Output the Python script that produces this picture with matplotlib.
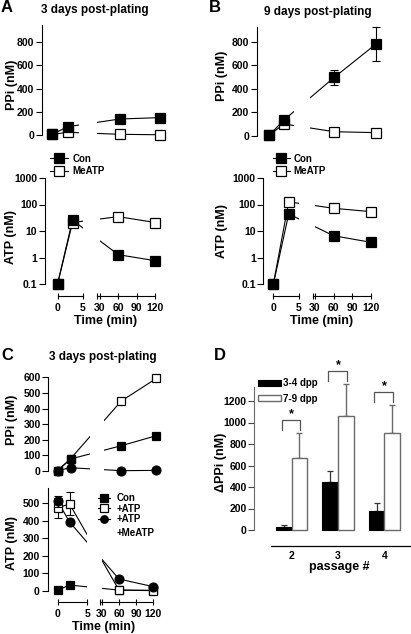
import numpy as np
import matplotlib
matplotlib.use("Agg")
import matplotlib.pyplot as plt
from matplotlib.lines import Line2D
from matplotlib.patches import Patch
from matplotlib.ticker import NullLocator

plt.rcParams['font.family'] = ['Liberation Sans', 'DejaVu Sans']
plt.rcParams['font.weight'] = 'bold'
plt.rcParams['axes.linewidth'] = 0.8

# -------------------------------
# DATA
# -------------------------------
time_ab = [0, 3, 60, 120]          # min
time_c = [0, 2, 60, 120]

# A: 3 days post-plating
a_ppi_con = [5, 72, 138, 150]
a_ppi_meatp = [5, 23, 6, 2]
a_atp_con = [0.1, 26, 1.3, 0.77]
a_atp_meatp = [0.1, 21, 35, 21]

# B: 9 days post-plating
b_ppi_con = [3, 134, 497, 778]
b_ppi_con_err = [0, 0, 65, 146]
b_ppi_meatp = [3, 100, 34, 26]
b_atp_con = [0.1, 44, 6.7, 3.8]
b_atp_meatp = [0.1, 126, 72, 54]

# C: 3 days post-plating, ATP added
c_ppi_con = [2, 77, 162, 226]
c_ppi_atp = [3, 80, 448, 593]
c_ppi_meatp = [3, 21, 2, 4]
c_atp_con = [4, 34, 5, 4]
c_atp_atp = [472, 495, 5, 2]
c_atp_atp_err = [55, 66, 0, 0]
c_atp_meatp = [510, 392, 68, 25]
c_atp_meatp_err = [30, 0, 0, 0]

# D: delta PPi by passage
passage = [2, 3, 4]
d_early = [25, 450, 180]
d_early_err = [20, 99, 68]
d_late = [667, 1060, 900]
d_late_err = [233, 295, 263]

# -------------------------------
# LAYOUT HELPERS (pixel based)
# -------------------------------
W, H = 411, 634
fig = plt.figure(figsize=(W / 100, H / 100), dpi=100)


def fx(px):
    return px / W


def fy(py):
    return 1 - py / H


def add_ax(l, t, r, b):
    return fig.add_axes([l / W, 1 - b / H, (r - l) / W, (b - t) / H])


def broken(s, g, rr):
    # 0-5 min and 30-120 min shown side by side, gap in between
    def fwd(t):
        t = np.asarray(t, float)
        return np.where(t <= 5, s * t,
                        np.where(t < 30, 5 * s + g * (t - 5) / 25,
                                 5 * s + g + rr * (t - 30)))

    def inv(u):
        u = np.asarray(u, float)
        a, b = 5 * s, 5 * s + g
        return np.where(u <= a, u / s,
                        np.where(u < b, 5 + (u - a) * 25 / g, 30 + (u - b) / rr))
    return fwd, inv


def time_axes(l, t, r, b, p0, s, g, rr, cut=0.0, show_x=True):
    ax = add_ax(l, t, r, b)
    fwd, inv = broken(s, g, rr)
    ax.set_xscale('function', functions=(fwd, inv))
    ax.set_xlim(float(inv(l - p0)), float(inv(r - p0)))
    ax.axvspan(5, float(inv(fwd(30) - cut)), color='white', lw=0, zorder=1.5)
    for sp in ['top', 'right', 'bottom']:
        ax.spines[sp].set_visible(False)
    ax.xaxis.set_minor_locator(NullLocator())
    if show_x:
        start = float(inv(fwd(30) - 2.5))
        ax.set_xticks([0, 5, start, 30, 60, 90, 120],
                      ['0', '5', '', '30', '60', '90', '120'])
        ax.tick_params(axis='x', direction='inout', length=4.5, width=0.8,
                       pad=3, labelsize=7.5)
        tr = ax.get_xaxis_transform()
        ax.plot([0, 5], [0, 0], transform=tr, color='k', lw=0.8, clip_on=False, zorder=3)
        ax.plot([start, 120], [0, 0], transform=tr, color='k', lw=0.8, clip_on=False, zorder=3)
    else:
        ax.set_xticks([])
    ax.xaxis.set_minor_locator(NullLocator())
    return ax


def lin_y(ax, zero_px, k, t, b, bound, ticks):
    ax.set_ylim((zero_px - b) / k, (zero_px - t) / k)
    ax.spines['left'].set_bounds(0, bound)
    ax.set_yticks(ticks)
    ax.tick_params(axis='y', direction='out', length=4, width=0.8, pad=1.5, labelsize=7.5)


def log_y(ax, p01, dec, t, b):
    ax.set_yscale('log')
    ax.set_ylim(0.1 * 10 ** ((p01 - b) / dec), 0.1 * 10 ** ((p01 - t) / dec))
    ax.set_yticks([0.1, 1, 10, 100, 1000], ['0.1', '1', '10', '100', '1000'])
    ax.yaxis.set_minor_locator(NullLocator())
    ax.spines['left'].set_bounds(0.1, 1000)
    ax.tick_params(axis='y', direction='out', length=4, width=0.8, pad=1.5, labelsize=7.5)


def series(ax, t, y, marker, fc, ms, z, yerr=None):
    ax.plot(t, y, color='k', lw=0.8, zorder=1)
    if yerr is not None:
        ax.errorbar(t, y, yerr=yerr, fmt='none', ecolor='k', elinewidth=0.8,
                    capsize=3, capthick=0.8, zorder=z - 0.05, clip_on=False)
    ax.plot(t, y, ls='none', marker=marker, ms=ms, mfc=fc, mec='k', mew=0.9,
            zorder=z, clip_on=False)


def legend(handles, labels, x, y, hl, htp, ls):
    fig.legend(handles, labels, loc='center left', bbox_to_anchor=(fx(x), fy(y)),
               frameon=False, fontsize=7, handlelength=hl, handletextpad=htp,
               labelspacing=ls, borderpad=0, borderaxespad=0)


def h(marker, fc, ms):
    return Line2D([], [], color='k', lw=0.8, marker=marker, ms=ms, mfc=fc, mec='k', mew=0.9)


# -------------------------------
# PANEL A
# -------------------------------
ax = time_axes(42, 22, 168, 142, 52, 5.33, 21.3, 0.667, cut=3, show_x=False)
lin_y(ax, 135, 0.116, 22, 142, 950, [0, 200, 400, 600, 800])
series(ax, time_ab, a_ppi_meatp, 's', 'white', 7.5, 3)
series(ax, time_ab, a_ppi_con, 's', 'k', 7.5, 3.1)

ax = time_axes(45, 172, 165, 296, 57.5, 5.0, 17, 0.622)
log_y(ax, 284.3, 26.6, 172, 296)
series(ax, time_ab, a_atp_meatp, 's', 'white', 7.5, 3)
series(ax, time_ab, a_atp_con, 's', 'k', 7.5, 3.1)

legend([h('s', 'k', 7.5), h('s', 'white', 7.5)], ['Con', 'MeATP'],
       50, 165, 1.85, 0.5, 0.26)

# -------------------------------
# PANEL B
# -------------------------------
ax = time_axes(256.7, 22, 385, 142, 269, 5.0, 19.6, 0.69, cut=3.5, show_x=False)
lin_y(ax, 135.7, 0.1175, 22, 142, 925, [0, 200, 400, 600, 800])
series(ax, time_ab, b_ppi_meatp, 's', 'white', 7.5, 3)
series(ax, time_ab, b_ppi_con, 's', 'k', 7.5, 3.1, yerr=b_ppi_con_err)

ax = time_axes(263.3, 172, 380, 296, 273.3, 5.14, 16, 0.619)
log_y(ax, 284.3, 26.6, 172, 296)
series(ax, time_ab, b_atp_meatp, 's', 'white', 7.5, 3)
series(ax, time_ab, b_atp_con, 's', 'k', 7.5, 3.1)

legend([h('s', 'k', 7.5), h('s', 'white', 7.5)], ['Con', 'MeATP'],
       272.7, 165, 1.75, 0.4, 0.26)

# -------------------------------
# PANEL C
# -------------------------------
ax = time_axes(48.3, 368, 165, 478, 57.7, 6.5, 13.5, 0.583, show_x=False)
lin_y(ax, 471, 0.156, 368, 478, 600, [0, 100, 200, 300, 400, 500, 600])
series(ax, time_c, c_ppi_atp, 's', 'white', 6.2, 3)
series(ax, time_c, c_ppi_meatp, 'o', 'k', 6.4, 3.1)
series(ax, time_c, c_ppi_con, 's', 'k', 6.2, 3.2)

ax = time_axes(47.5, 480, 165, 601.7, 57.7, 5.92, 14.7, 0.567)
lin_y(ax, 591, 0.176, 480, 601.7, 585, [0, 100, 200, 300, 400, 500])
series(ax, time_c, c_atp_con, 's', 'k', 6.2, 3)
series(ax, time_c, c_atp_atp, 's', 'white', 6.2, 3.1, yerr=c_atp_atp_err)
series(ax, time_c, c_atp_meatp, 'o', 'k', 6.4, 3.2, yerr=c_atp_meatp_err)

legend([h('s', 'k', 5.2), h('s', 'white', 5.2), h('o', 'k', 5.4)],
       ['Con', '+ATP', '+ATP'], 98.3, 508.7, 1.25, 0.65, 0.05)
fig.text(fx(116.7), fy(532.7), '+MeATP', fontsize=7, ha='left', va='center')

# -------------------------------
# PANEL D
# -------------------------------
grey = '#6a6a6a'
x = np.array(passage, float)
w = 0.335
ax = add_ax(254.3, 355, 410, 546)
ax.set_ylim(-(546 - 530) / 0.1075, (530 - 355) / 0.1075)
ax.set_xlim(1.192, 4.555)
for sp in ['top', 'right', 'bottom']:
    ax.spines[sp].set_visible(False)
ax.spines['left'].set_bounds(0, 1330)
ax.spines['left'].set_color(grey)
ax.set_yticks([0, 200, 400, 600, 800, 1000, 1200])
ax.tick_params(axis='y', direction='out', length=4, width=0.8, pad=1.5,
               labelsize=7.5, color='#444444')
ax.set_xticks(x, [str(p) for p in passage])
ax.tick_params(axis='x', length=0, pad=3.5, labelsize=7.5)
ax.plot([1.546, 4.555], [0, 0], transform=ax.get_xaxis_transform(),
        color='k', lw=0.9, clip_on=False)

ax.bar(x - w / 2, d_early, w, color='k', edgecolor='k', lw=0.8, zorder=2)
ax.bar(x + w / 2, d_late, w, color='white', edgecolor=grey, lw=1.0, zorder=2)
ax.errorbar(x - w / 2, d_early, yerr=[np.zeros(3), d_early_err], fmt='none',
            ecolor='#333333', elinewidth=0.9, capsize=2.5, capthick=0.9, zorder=1.5)
ax.errorbar(x + w / 2, d_late, yerr=[np.zeros(3), d_late_err], fmt='none',
            ecolor=grey, elinewidth=1.0, capsize=2.5, capthick=1.0, zorder=1.5)

# significance brackets
for xi, top in zip(x, np.array(d_late) + np.array(d_late_err)):
    yb = top + 123
    x1, x2 = xi - w / 2 - 0.05, xi + w / 2 + 0.02
    ax.plot([x1, x1, x2, x2], [yb - 95, yb, yb, yb - 95], color='#555555',
            lw=0.9, clip_on=False)
    ax.text(xi, yb + 55, '*', ha='center', va='center', fontsize=9)

fig.legend([Patch(fc='k', ec='k', lw=0.8), Patch(fc='white', ec=grey, lw=1.0)],
           ['3-4 dpp', '7-9 dpp'], loc='center left',
           bbox_to_anchor=(fx(258), fy(391)), frameon=False, fontsize=7,
           handlelength=2.37, handleheight=0.69, handletextpad=0.18,
           labelspacing=0.52, borderpad=0, borderaxespad=0)

# -------------------------------
# TEXT LABELS
# -------------------------------
lab = dict(fontsize=9, fontweight='bold', ha='center', va='center')
fig.text(fx(1), fy(8), 'A', fontsize=12, ha='left', va='center')
fig.text(fx(95), fy(10.5), '3 days post-plating', fontsize=8.5, ha='center', va='center')
fig.text(fx(209), fy(8), 'B', fontsize=12, ha='left', va='center')
fig.text(fx(317.5), fy(11.5), '9 days post-plating', fontsize=8.5, ha='center', va='center')
fig.text(fx(1), fy(356), 'C', fontsize=12, ha='left', va='center')
fig.text(fx(102.5), fy(356.7), '3 days post-plating', fontsize=8.5, ha='center', va='center')
fig.text(fx(214), fy(356), 'D', fontsize=12, ha='left', va='center')

fig.text(fx(12.5), fy(85), 'PPi (nM)', rotation=90, **lab)
fig.text(fx(11), fy(237.5), 'ATP (nM)', rotation=90, **lab)
fig.text(fx(222.5), fy(76), 'PPi (nM)', rotation=90, **lab)
fig.text(fx(221.7), fy(231), 'ATP (nM)', rotation=90, **lab)
fig.text(fx(12), fy(420), 'PPi (nM)', rotation=90, **lab)
fig.text(fx(12), fy(543), 'ATP (nM)', rotation=90, **lab)
fig.text(fx(221), fy(462), '\u0394PPi (nM)', rotation=90, **lab)

fig.text(fx(106), fy(321), 'Time (min)', **lab)
fig.text(fx(321.7), fy(321), 'Time (min)', **lab)
fig.text(fx(104), fy(627), 'Time (min)', **lab)
fig.text(fx(339.3), fy(566.7), 'passage #', **lab)

fig.savefig('out.png', dpi=100)
